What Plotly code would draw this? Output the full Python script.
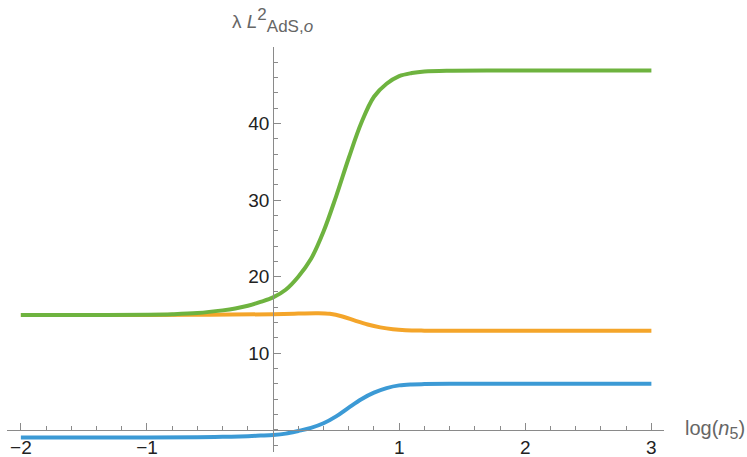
import plotly.graph_objects as go

# ---- data ----
green_x = [-2, -1.5, -1, -0.8, -0.6, -0.4, -0.3, -0.2, -0.1, 0, 0.1, 0.2, 0.3, 0.4, 0.5,
           0.6, 0.7, 0.8, 0.9, 1.0, 1.1, 1.2, 1.4, 2, 3]
green_y = [15.0, 15.0, 15.04, 15.1, 15.25, 15.6, 15.85, 16.2, 16.7, 17.3, 18.3, 20.0, 22.3, 25.9, 30.5,
           35.5, 40.1, 43.5, 45.2, 46.2, 46.6, 46.8, 46.9, 46.92, 46.92]

orange_x = [-2, -1, -0.5, 0, 0.2, 0.35, 0.45, 0.55, 0.65, 0.75, 0.85, 0.95, 1.05, 1.2, 2, 3]
orange_y = [15.0, 15.0, 15.03, 15.1, 15.18, 15.23, 15.15, 14.8, 14.25, 13.75, 13.38, 13.13, 13.0, 12.95,
            12.95, 12.95]

blue_x = [-2, -1, -0.6, -0.4, -0.2, -0.1, 0, 0.1, 0.2, 0.3, 0.4, 0.5, 0.6, 0.7, 0.8, 0.9, 1.0,
          1.1, 1.2, 1.4, 2, 3]
blue_y = [-1.0, -1.0, -0.97, -0.92, -0.83, -0.76, -0.68, -0.5, -0.15, 0.25, 0.85, 1.75, 2.9, 4.0, 4.85,
          5.45, 5.8, 5.93, 5.97, 6.0, 6.0, 6.0]

x_ticks = [-2, -1, 1, 2, 3]
x_tick_text = ["\u22122", "\u22121", "1", "2", "3"]
y_ticks = [10, 20, 30, 40]

# ---- styling ----
XR = [-2.11, 3.1]
YR = [-2.9, 50]
ML, MR, MT, MB = 7, 83, 47, 5
W, H = 747, 457
AX = "#8a8a8a"
FONT = "Liberation Sans, Arial, sans-serif"

fig = go.Figure()
for xs, ys, col in [(blue_x, blue_y, "#3C9AD5"),
                    (orange_x, orange_y, "#F4A52A"),
                    (green_x, green_y, "#6EB33F")]:
    fig.add_trace(go.Scatter(x=xs, y=ys, mode="lines",
                             line=dict(color=col, width=4, shape="spline", smoothing=1.0),
                             showlegend=False, hoverinfo="skip"))

x_minor = [round(-2 + 0.2 * i, 2) for i in range(26)]
y_minor = [-2 + 2 * i for i in range(26)]

fig.update_layout(
    width=W, height=H,
    margin=dict(l=ML, r=MR, t=MT, b=MB, autoexpand=False),
    plot_bgcolor="white", paper_bgcolor="white",
    font=dict(family=FONT, size=19, color="#222"),
    xaxis=dict(range=XR, anchor="free", position=(0 - YR[0]) / (YR[1] - YR[0]), automargin=False,
               showline=True, linecolor=AX, linewidth=1, showgrid=False, zeroline=False,
               tickmode="array", tickvals=x_ticks, ticktext=x_tick_text,
               ticks="inside", ticklen=7, tickcolor=AX, tickwidth=1,
               minor=dict(tickmode="array", tickvals=x_minor, ticks="inside", ticklen=4,
                          tickcolor=AX, tickwidth=1, showgrid=False),
               tickfont=dict(family=FONT, size=19, color="#222")),
    yaxis=dict(range=YR, anchor="free", position=(0 - XR[0]) / (XR[1] - XR[0]), automargin=False,
               showline=True, linecolor=AX, linewidth=1, showgrid=False, zeroline=False,
               tickmode="array", tickvals=y_ticks,
               ticks="inside", ticklen=7, tickcolor=AX, tickwidth=1,
               minor=dict(tickmode="array", tickvals=y_minor, ticks="inside", ticklen=4,
                          tickcolor=AX, tickwidth=1, showgrid=False),
               tickfont=dict(family=FONT, size=19, color="#222")),
)

pw, ph = W - ML - MR, H - MT - MB
fig.add_annotation(x=(683 - ML) / pw, y=(H - MB - 429) / ph, xref="paper", yref="paper",
                   xanchor="left", yanchor="middle",
                   text="log(<i>n</i><sub><span style=\"font-size:16px\">5</span></sub>)",
                   showarrow=False, font=dict(family=FONT, size=20, color="#666"))
fig.add_annotation(x=(230 - ML) / pw, y=(H - MB - 20) / ph, xref="paper", yref="paper",
                   xanchor="left", yanchor="middle",
                   text="\u03bb <i>L</i><sup><span style=\"font-size:17px\">2</span></sup>"
                        "<sub><span style=\"font-size:17px\">AdS,<i>o</i></span></sub>",
                   showarrow=False, font=dict(family=FONT, size=19, color="#666"))

fig.write_html("out.html", config={"displayModeBar": False},
               post_script="document.body.style.margin='0';document.body.style.overflow='hidden';")
